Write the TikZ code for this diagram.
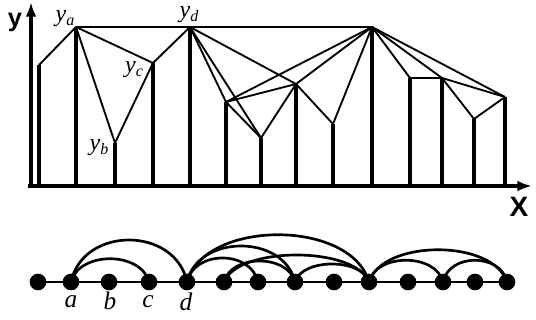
\documentclass[tikz,border=0pt]{standalone}
\usepackage{fontspec}
\newfontfamily\axisfont{Liberation Sans}
\newfontfamily\lblfont{Liberation Serif}
\usetikzlibrary{arrows.meta}
\newcommand{\ylab}[1]{{\lblfont\itshape y\raisebox{-0.35ex}{\fontsize{12}{12}\selectfont #1}}}
\begin{document}
\begin{tikzpicture}[x=0.75pt,y=-0.75pt,
  bar/.style={line width=3.4pt},
  vis/.style={line width=1.4pt, line join=round},
  axisline/.style={line width=3.2pt,-{Latex[length=11pt,width=8pt]}},
  dot/.style={circle,fill=black,inner sep=0pt,minimum size=12.5pt},
  arcline/.style={line width=2pt},
  baseline/.style={line width=1.8pt},
  toplbl/.style={font=\fontsize{18}{20}\selectfont},
  botlbl/.style={font=\lblfont\itshape\fontsize{19}{21}\selectfont},
  axlbl/.style={font=\axisfont\bfseries\fontsize{19}{21}\selectfont}
]
\useasboundingbox (0,0) rectangle (536,320);
% top chart coordinates
\foreach \i/\x/\y in {1/39/65, 2/76/27, 3/115/143, 4/153/63, 5/190/27, 6/226/102, 7/261/138,
  8/296/84, 9/333/124, 10/372/27, 11/410/78, 12/442/78, 13/474/119, 14/505/97} {
  \coordinate (t\i) at (\x,\y);
  \coordinate (g\i) at (\x,186);
}
\coordinate (ybase) at (31,188);
\coordinate (ytip) at (31,2);
\coordinate (xbase) at (28,186);
\coordinate (xtip) at (532,186);
% bars
\foreach \i in {1,...,14} \draw[bar] (g\i) -- (t\i);
% axes
\draw[axisline] (ybase) -- (ytip);
\draw[axisline] (xbase) -- (xtip);
% visibility lines
\foreach \a/\b in {1/2, 2/3, 2/4, 3/4, 4/5, 2/10, 5/6, 5/7, 5/8, 6/7, 6/8, 6/10, 7/8, 8/9, 8/10,
  9/10, 10/11, 11/12, 10/12, 10/14, 12/13, 13/14, 12/14}
  \draw[vis] (t\a) -- (t\b);
% labels
\node[axlbl] (ylabel) at (15,22) {y};
\node[axlbl, font=\axisfont\bfseries\fontsize{21}{23}\selectfont] (xlabel) at (519,207) {X};
\node[toplbl] (la) at (65,19) {\ylab{a}};
\node[toplbl] (ld) at (189,15) {\ylab{d}};
\node[toplbl] (lc) at (134,70) {\ylab{c}};
\node[toplbl] (lb) at (99,148) {\ylab{b}};
% bottom graph
\foreach \i/\x in {1/38, 2/71, 3/109, 4/149, 5/187, 6/224, 7/258, 8/295, 9/334, 10/369,
  11/408, 12/443, 13/475, 14/507}
  \node[dot] (n\i) at (\x,282) {};
\draw[baseline] (n1.center) -- (n14.center);
\foreach \a/\b/\dx/\dy in {2/4/8/31, 2/5/12/56, 5/7/7/32, 5/8/11/48, 5/10/18/63, 6/8/7/28,
  6/10/14/36, 8/10/7/24, 10/12/7/29, 10/14/14/43, 12/14/6/29}
  \draw[arcline] (n\a.center) .. controls +(\dx,-\dy) and +(-\dx,-\dy) .. (n\b.center);
\node[botlbl] (qa) at (71,302) {a};
\node[botlbl] (qb) at (110,301) {b};
\node[botlbl] (qc) at (148,302) {c};
\node[botlbl] (qd) at (186,302) {d};
\end{tikzpicture}
\end{document}
